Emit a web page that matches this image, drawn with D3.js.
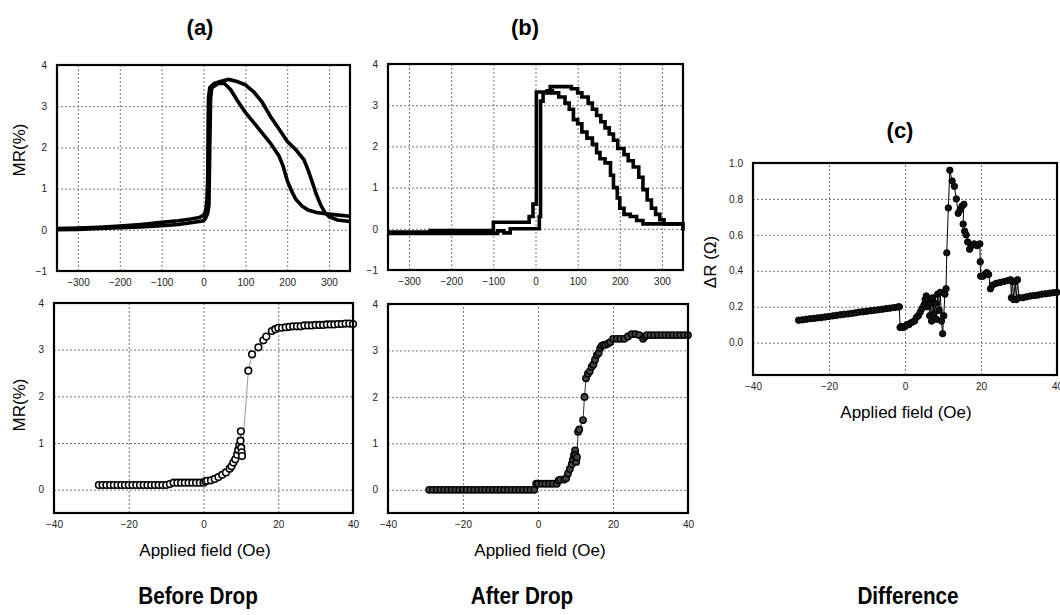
<!DOCTYPE html>
<html>
<head>
<meta charset="utf-8">
<script src="https://cdn.jsdelivr.net/npm/d3@7/dist/d3.min.js"></script>
<style>
  body { margin: 0; background: #fff; }
  svg { display: block; }
  .tick text { font-family: "Liberation Sans", Arial, sans-serif; font-size: 10px; fill: #222; }
  .grid line { stroke: #777; stroke-width: 1; stroke-dasharray: 2,2; }
  .grid path { display: none; }
  .axis path, .axis line { display: none; }
</style>
</head>
<body>
<script>
// top row: MR loops over +/-350 Oe
const topA_up = [[-350,0.03],[-300,0.04],[-250,0.06],[-200,0.09],[-150,0.13],[-100,0.18],[-60,0.22],[-30,0.26],[-10,0.3],[0,0.35],[5,0.45],[8,0.7],[10,1.2],[11,2.5],[12,3.2],[15,3.45],[25,3.55],[40,3.6],[60,3.65],[80,3.6],[100,3.52],[120,3.35],[140,3.1],[160,2.75],[180,2.45],[200,2.15],[220,1.95],[240,1.7],[250,1.45],[260,1.15],[270,0.85],[280,0.6],[290,0.42],[300,0.32],[320,0.24],[350,0.2]];
const topA_dn = [[-350,0.0],[-300,0.01],[-250,0.03],[-200,0.05],[-150,0.07],[-100,0.1],[-60,0.13],[-30,0.17],[-10,0.2],[0,0.22],[5,0.28],[10,0.4],[13,0.6],[15,2.0],[17,3.2],[20,3.45],[35,3.55],[50,3.55],[65,3.4],[80,3.15],[100,2.85],[120,2.6],[140,2.35],[160,2.1],[180,1.8],[190,1.55],[200,1.2],[210,0.95],[220,0.75],[235,0.58],[250,0.48],[270,0.42],[300,0.38],[350,0.33]];

const topB_up = [[-350,-0.08],[-250,-0.04],[-100,0.16],[-15,0.3],[-6,0.6],[2,3.32],[28,3.35],[40,3.3],[55,3.2],[70,3.05],[80,2.9],[90,2.65],[100,2.55],[110,2.35],[122,2.2],[135,2.05],[145,1.85],[153,1.7],[165,1.6],[178,1.3],[185,1.0],[194,0.75],[200,0.5],[210,0.35],[225,0.3],[240,0.2],[255,0.12],[350,0.12]];
const topB_dn = [[-350,-0.11],[-100,-0.11],[-90,-0.05],[-75,-0.1],[-60,0.0],[5,0.0],[9,0.3],[12,3.1],[18,3.3],[35,3.45],[85,3.4],[100,3.3],[110,3.2],[125,3.05],[135,2.9],[145,2.75],[155,2.6],[165,2.45],[175,2.3],[185,2.15],[195,1.95],[210,1.8],[220,1.65],[232,1.5],[245,1.25],[255,0.95],[265,0.7],[275,0.5],[285,0.35],[295,0.22],[305,0.12],[342,0.12],[350,-0.05]];

// bottom row: MR near zero field
const botA_x = [-28,-27,-26,-25,-24,-23,-22,-21,-20,-19,-18,-17,-16,-15,-14,-13,-12,-11,-10,-9,-8,-7,-6,-5,-4,-3,-2,-1,0,0.5,1,2,3,4,5,6,7,7.5,8,8.5,9,9.3,9.6,9.9,10,10.1,10.2,10.3,12,13,14.7,16,16.8,18.3,19.2,20,21,22,23,24,25,26,27,28,29,30,31,32,33,34,35,36,37,38,39,40];
const botA_y = [0.1,0.1,0.1,0.1,0.1,0.1,0.1,0.1,0.1,0.1,0.1,0.1,0.1,0.1,0.1,0.1,0.1,0.1,0.1,0.12,0.15,0.15,0.15,0.15,0.15,0.15,0.15,0.15,0.15,0.18,0.19,0.2,0.23,0.27,0.32,0.37,0.45,0.5,0.58,0.65,0.75,0.85,0.95,1.05,1.25,0.9,0.8,0.72,2.55,2.9,3.05,3.2,3.28,3.4,3.44,3.47,3.47,3.48,3.49,3.5,3.5,3.5,3.52,3.52,3.52,3.53,3.53,3.53,3.54,3.54,3.54,3.55,3.55,3.56,3.56,3.55];

const botB_x = [-29,-28,-27,-26,-25,-24,-23,-22,-21,-20,-19,-18,-17,-16,-15,-14,-13,-12,-11,-10,-9,-8,-7,-6,-5,-4,-3,-2,-1,-0.5,0,1,2,3,4,5,5.5,6,7,7.5,8,8.5,9,9.3,9.6,9.9,10,10.2,10.4,10.7,11,12,12.4,12.8,13.3,13.8,14.3,14.8,15.2,15.7,16.2,16.6,17,17.5,18,18.7,19.3,20,21,22,23,24,25,26,27,28,28.5,29,30,31,32,33,34,35,36,37,38,39,40];
const botB_y = [0,0,0,0,0,0,0,0,0,0,0,0,0,0,0,0,0,0,0,0,0,0,0,0,0,0,0,0,0,0.13,0.13,0.13,0.13,0.13,0.13,0.13,0.2,0.22,0.22,0.25,0.35,0.45,0.55,0.65,0.75,0.85,0.75,0.6,0.7,1.25,1.3,1.5,2.0,2.4,2.5,2.55,2.65,2.7,2.8,2.9,2.95,3.05,3.1,3.12,3.12,3.15,3.18,3.25,3.25,3.25,3.25,3.3,3.35,3.35,3.33,3.25,3.3,3.33,3.33,3.33,3.33,3.33,3.33,3.33,3.33,3.33,3.33,3.33,3.33];

// difference
const diff_x = [-28,-27,-26,-25,-24,-23,-22,-21,-20,-19,-18,-17,-16,-15,-14,-13,-12,-11,-10,-9,-8,-7,-6,-5,-4,-3,-2,-1.5,-1.3,-1,-0.5,0,0.5,1,1.5,2,2.5,3,3.5,4,4.5,5,5.3,5.6,5.9,6.2,6.5,6.8,7,7.3,7.6,8,8.3,8.6,9,9.3,9.6,9.9,10.2,10.5,10.8,11,11.4,11.8,12.4,13,13.5,14,14.5,15,15.5,15.3,15.7,16.1,16.5,17,17.5,18.2,19,19.7,19.8,19.9,20.5,21,21.5,22,22.5,23,24,25,26,27,27.8,28,28.3,28.6,29,29.3,29.6,30,31,32,33,34,35,36,37,38,39,40];
const diff_y = [0.125,0.127,0.13,0.133,0.135,0.138,0.14,0.143,0.146,0.149,0.152,0.155,0.158,0.16,0.163,0.166,0.17,0.172,0.175,0.178,0.18,0.183,0.186,0.189,0.192,0.195,0.198,0.2,0.085,0.09,0.085,0.09,0.1,0.1,0.11,0.115,0.12,0.14,0.15,0.17,0.19,0.21,0.24,0.26,0.2,0.24,0.15,0.22,0.12,0.25,0.16,0.22,0.13,0.27,0.18,0.28,0.12,0.05,0.15,0.27,0.3,0.5,0.75,0.96,0.9,0.87,0.8,0.72,0.74,0.76,0.77,0.66,0.62,0.6,0.56,0.52,0.54,0.55,0.54,0.55,0.45,0.37,0.37,0.38,0.39,0.38,0.3,0.32,0.33,0.335,0.34,0.345,0.35,0.25,0.34,0.24,0.34,0.24,0.35,0.25,0.25,0.255,0.26,0.262,0.265,0.27,0.272,0.275,0.278,0.28];

const topXTicks = [-300,-200,-100,0,100,200,300];
const topYTicks = [-1,0,1,2,3,4];
const botXTicks = [-40,-20,0,20,40];
const botYTicks = [0,1,2,3,4];
const diffYTicks = [0,0.2,0.4,0.6,0.8,1.0];

const svg = d3.select('body').append('svg')
  .attr('width', 1060)
  .attr('height', 615);

function panel(box, xDom, yDom, xTicks, yTicks, yFmt) {
  const x = d3.scaleLinear().domain(xDom).range([box.x0, box.x1]);
  const y = d3.scaleLinear().domain(yDom).range([box.y1, box.y0]);
  const w = box.x1 - box.x0, h = box.y1 - box.y0;

  svg.append('g').attr('class', 'grid')
    .attr('transform', 'translate(0,' + box.y1 + ')')
    .call(d3.axisBottom(x).tickValues(xTicks.filter(t => t > xDom[0] && t < xDom[1])).tickSize(-h).tickFormat(''));
  svg.append('g').attr('class', 'grid')
    .attr('transform', 'translate(' + box.x0 + ',0)')
    .call(d3.axisLeft(y).tickValues(yTicks.filter(t => t > yDom[0] && t < yDom[1])).tickSize(-w).tickFormat(''));

  svg.append('g').attr('class', 'axis')
    .attr('transform', 'translate(0,' + (box.y1 + 4) + ')')
    .call(d3.axisBottom(x).tickValues(xTicks).tickSize(0).tickPadding(4));
  svg.append('g').attr('class', 'axis')
    .attr('transform', 'translate(' + (box.x0 - 7) + ',0)')
    .call(d3.axisLeft(y).tickValues(yTicks).tickSize(0).tickPadding(3).tickFormat(yFmt || d3.format('d')));

  const plot = svg.append('g');
  svg.append('rect')
    .attr('x', box.x0).attr('y', box.y0)
    .attr('width', w).attr('height', h)
    .attr('fill', 'none').attr('stroke', '#000').attr('stroke-width', 2.2);
  return { x, y, plot };
}

function thickLine(p, data, curve) {
  p.plot.append('path')
    .datum(data)
    .attr('fill', 'none')
    .attr('stroke', '#000')
    .attr('stroke-width', 3.6)
    .attr('stroke-linejoin', 'miter')
    .attr('d', d3.line().x(d => p.x(d[0])).y(d => p.y(d[1])).curve(curve || d3.curveLinear));
}

function dots(p, xs, ys, opt) {
  const pts = xs.map((v, i) => [v, ys[i]]);
  p.plot.append('path')
    .datum(pts)
    .attr('fill', 'none')
    .attr('stroke', opt.line)
    .attr('stroke-width', opt.lw)
    .attr('d', d3.line().x(d => p.x(d[0])).y(d => p.y(d[1])));
  p.plot.selectAll(null)
    .data(pts)
    .join('circle')
    .attr('cx', d => p.x(d[0]))
    .attr('cy', d => p.y(d[1]))
    .attr('r', opt.r)
    .attr('fill', opt.fill)
    .attr('stroke', '#000')
    .attr('stroke-width', opt.sw);
}

// (a) top
const pa = panel({x0: 57, x1: 350, y0: 65, y1: 271}, [-350, 350], [-1, 4], topXTicks, topYTicks);
thickLine(pa, topA_dn);
thickLine(pa, topA_up);

// (b) top
const pb = panel({x0: 388, x1: 683, y0: 64, y1: 270}, [-350, 350], [-1, 4], topXTicks, topYTicks);
thickLine(pb, topB_dn, d3.curveStepAfter);
thickLine(pb, topB_up, d3.curveStepAfter);

// (a) bottom
const pc = panel({x0: 54, x1: 353, y0: 303, y1: 513}, [-40, 40], [-0.5, 4], botXTicks, botYTicks);
dots(pc, botA_x, botA_y, {r: 3.3, fill: '#fff', sw: 1.6, line: '#999', lw: 1});

// (b) bottom
const pd = panel({x0: 388, x1: 688, y0: 304, y1: 513}, [-40, 40], [-0.5, 4], botXTicks, botYTicks);
dots(pd, botB_x, botB_y, {r: 3.2, fill: '#444', sw: 1.4, line: '#333', lw: 1});

// (c)
const pe = panel({x0: 753, x1: 1057, y0: 163, y1: 375}, [-40, 40], [-0.18, 1.0], botXTicks, diffYTicks, d3.format('.1f'));
dots(pe, diff_x, diff_y, {r: 3.2, fill: '#111', sw: 1, line: '#000', lw: 1});

// labels
const txt = (x, y, s, size, weight, rot, sx) => {
  const t = svg.append('text')
    .attr('text-anchor', 'middle')
    .attr('font-family', '"Liberation Sans", Arial, sans-serif')
    .attr('font-size', size)
    .attr('font-weight', weight || 'normal')
    .attr('fill', '#000')
    .text(s);
  if (rot) t.attr('transform', 'translate(' + x + ',' + y + ') rotate(-90)');
  else t.attr('transform', 'translate(' + x + ',' + y + ') scale(' + (sx || 1) + ',1)');
};

txt(200, 35, '(a)', 22, 'bold');
txt(525, 35, '(b)', 22, 'bold');
txt(900, 138, '(c)', 22, 'bold');

txt(25, 150, 'MR(%)', 17, 'normal', true);
txt(25, 405, 'MR(%)', 17, 'normal', true);
txt(716, 262, 'ΔR (Ω)', 17, 'normal', true);

txt(205, 556, 'Applied field (Oe)', 17);
txt(540, 556, 'Applied field (Oe)', 17);
txt(906, 418, 'Applied field (Oe)', 17);

txt(198, 604, 'Before Drop', 23, 'bold', false, 0.9);
txt(522, 604, 'After Drop', 23, 'bold', false, 0.9);
txt(908, 604, 'Difference', 23, 'bold', false, 0.9);
</script>
</body>
</html>
